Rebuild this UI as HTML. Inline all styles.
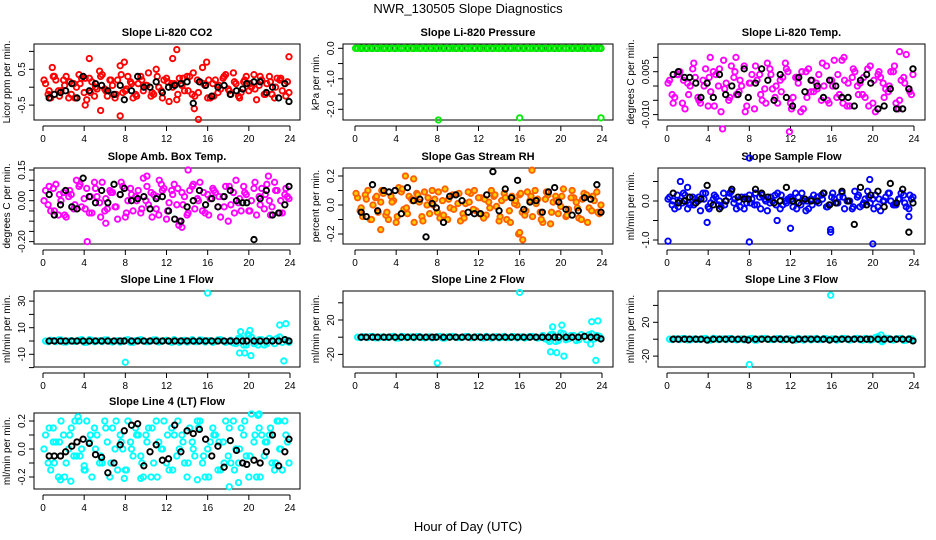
<!DOCTYPE html>
<html><head><meta charset="utf-8">
<style>
html,body{margin:0;padding:0;background:#fff;}
svg{display:block;font-family:"Liberation Sans",sans-serif;}
</style></head>
<body>
<svg id="chart" width="936" height="540" viewBox="0 0 936 540">
<text x="468" y="13" text-anchor="middle" font-size="13">NWR_130505  Slope Diagnostics</text>
<text x="468" y="531" text-anchor="middle" font-size="13">Hour of Day (UTC)</text>
</svg>
<script>
// ---- shared categories ----
const hoursA = [0.25,0.75,1.25,1.75,2.25,2.75,3.25,3.75,4.25,4.75,5.25,5.75,6.25,6.75,7.25,7.75,8.25,8.75,9.25,9.75,10.25,10.75,11.25,11.75,12.25,12.75,13.25,13.75,14.25,14.75,15.25,15.75,16.25,16.75,17.25,17.75,18.25,18.75,19.25,19.75,20.25,20.75,21.25,21.75,22.25,22.75,23.25,23.75];
const hoursB = [0.5,1.0,1.5,2.0,2.5,3.0,3.5,4.0,4.5,5.0,5.5,6.0,6.5,7.0,7.5,8.0,8.5,9.0,9.5,10.0,10.5,11.0,11.5,12.0,12.5,13.0,13.5,14.0,14.5,15.0,15.5,16.0,16.5,17.0,17.5,18.0,18.5,19.0,19.5,20.0,20.5,21.0,21.5,22.0,22.5,23.0,23.5,23.9];
const hoursC = [0.1,0.6,1.1,1.6,2.1,2.6,3.1,3.6,4.1,4.6,5.1,5.6,6.1,6.6,7.1,7.6,8.1,8.6,9.1,9.6,10.1,10.6,11.1,11.6,12.1,12.6,13.1,13.6,14.1,14.6,15.1,15.6,16.1,16.6,17.1,17.6,18.1,18.6,19.1,19.6,20.1,20.6,21.1,21.6,22.1,22.6,23.1,23.6];
const hoursK = [0.6,1.1,1.7,2.2,2.8,3.3,3.9,4.5,5.1,5.7,6.3,6.9,7.5,7.9,8.6,9.2,9.8,10.4,11,11.6,12.2,12.8,13.4,14,14.6,15.2,15.8,16.4,17,17.6,18.2,18.8,19.4,19.8,20.5,21.1,21.7,22.3,22.9,23.5,23.9];
const xTicks = [0,4,8,12,16,20,24];

// ---- panel 1: CO2 ----
const co2A = [0.1,-0.3,0.2,-0.1,0.3,-0.2,0.0,0.25,-0.35,0.15,-0.05,0.35,-0.25,0.05,0.2,-0.15,0.3,-0.3,0.1,-0.1,0.4,-0.2,0.0,0.2,-0.4,0.1,0.25,-0.1,0.3,-0.25,0.15,0.05,-0.3,0.2,-0.05,0.35,-0.2,0.1,-0.15,0.3,0.0,-0.35,0.2,0.1,-0.2,0.25,-0.1,0.15];
const co2B = [-0.2,0.3,-0.1,0.2,-0.3,0.1,0.35,-0.15,0.25,-0.25,0.45,-0.05,0.2,-0.3,0.6,-0.1,0.15,-0.2,0.3,0.05,-0.25,0.5,-0.1,0.25,0.1,-0.35,0.05,0.3,-0.2,0.2,0.55,-0.3,0.1,-0.15,0.25,-0.05,0.4,-0.25,0.15,-0.1,0.35,0.05,-0.2,0.3,-0.3,0.2,0.1,-0.15];
const co2C = [0.2,-0.1,0.3,-0.25,0.05,0.15,-0.3,0.1,0.25,-0.15,0.0,0.3,-0.1,0.2,-0.2,0.35,-0.05,0.1,-0.25,0.2,0.05,-0.15,0.3,-0.3,0.15,0.0,-0.2,0.25,-0.1,0.4,-0.15,0.1,0.2,-0.25,0.05,0.3,-0.1,0.15,-0.3,0.2,0.1,-0.05,0.3,-0.2,0.15,0.0,0.25,-0.25];
const co2OutH = [0.9,4.1,4.5,5.6,7.5,7.9,12.6,13.0,15.1,15.9,23.9,14.7];
const co2OutV = [0.55,-0.5,0.8,-0.65,-0.8,0.7,0.8,1.05,-0.9,0.7,0.85,-0.6];
const co2K = [-0.3,-0.2,-0.15,-0.1,0.1,-0.3,0.3,-0.1,0.1,0.05,-0.1,-0.2,0.05,-0.35,-0.1,0.3,0.0,0.0,0.15,-0.15,0.0,0.05,0.1,0.15,-0.45,0.15,0.05,-0.25,0.0,0.05,-0.2,-0.1,-0.05,0.1,0.15,0.15,-0.15,0.0,-0.3,0.1,-0.4];
const co2Ticks = [-0.5,0,0.5,1.0];
const co2Labels = ["-0.5","","0.5",""];

// ---- panel 2: pressure ----
const presA = [0,0,0,0,0,0,0,0,0,0,0,0,0,0,0,0,0,0,0,0,0,0,0,0,0,0,0,0,0,0,0,0,0,0,0,0,0,0,0,0,0,0,0,0,0,0,0,0];
const presB = [0,0,0,0,0,0,0,0,0,0,0,0,0,0,0,0,0,0,0,0,0,0,0,0,0,0,0,0,0,0,0,0,0,0,0,0,0,0,0,0,0,0,0,0,0,0,0,0];
const presC = [];
const presOutH = [0.05,8.1,16.0,23.9];
const presOutV = [0,-2.35,-2.28,-2.28];
const presK = [0,0,0,0,0,0,0,0,0,0,0,0,0,0,0,0,0,0,0,0,0,0,0,0,0,0,0,0,0,0,0,0,0,0,0,0,0,0,0,0,0];
const presTicks = [-2.0,-1.5,-1.0,-0.5,0.0];
const presLabels = ["-2.0","","-1.0","","0.0"];

// ---- panel 3: Li-820 temp ----
const tempA = [0.002,-0.004,0.005,-0.008,0.0,0.003,-0.006,0.006,-0.002,0.004,-0.009,0.001,0.007,-0.003,0.0,-0.007,0.004,0.002,-0.005,0.008,-0.001,-0.006,0.003,0.005,-0.004,0.001,-0.008,0.006,-0.002,0.004,0.0,-0.006,0.009,-0.003,0.002,-0.007,0.005,0.001,-0.004,0.007,-0.009,0.003,-0.001,0.005,-0.006,0.002,0.011,-0.003];
const tempB = [-0.003,0.004,-0.006,0.001,0.006,-0.004,0.002,-0.007,0.005,0.0,0.009,-0.005,0.003,-0.002,0.007,0.001,-0.008,0.004,-0.001,0.006,-0.004,0.002,0.008,-0.006,0.003,-0.009,0.005,-0.002,0.001,-0.005,0.007,0.002,-0.004,0.009,-0.007,0.003,0.0,-0.003,0.006,-0.006,0.004,0.001,-0.002,0.005,-0.008,0.003,-0.001,0.004];
const tempC = [0.001,-0.006,0.004,0.002,-0.003,0.008,-0.005,0.0,0.003,-0.007,0.006,-0.001,-0.004,0.005,0.002,-0.009,0.001,0.007,-0.003,-0.006,0.004,0.0,-0.002,0.006,-0.008,0.003,0.005,-0.004,0.002,-0.001,0.008,-0.005,0.0,0.004,-0.006,0.001,0.006,-0.003,0.003,-0.007,0.002,0.005,-0.004,0.0,0.007,-0.005,0.001,-0.002];
const tempOutH = [5.4,11.9,4.2,6.7,22.6,17.2];
const tempOutV = [-0.015,-0.016,0.010,0.010,0.012,0.010];
const tempK = [0.004,0.005,0.003,0.003,0.001,-0.004,0.001,-0.004,0.004,-0.003,0.0,-0.003,0.006,-0.004,0.001,0.006,0.002,-0.005,0.004,-0.004,-0.007,0.003,-0.002,0.002,0.0,-0.004,0.002,0.0,-0.004,-0.004,-0.007,0.002,0.004,0.001,-0.008,-0.007,-0.001,-0.008,-0.008,-0.001,0.006];
const tempTicks = [-0.015,-0.010,-0.005,0.0,0.005,0.010];
const tempLabels = ["","-0.010","","","0.005",""];

// ---- panel 4: amb box temp ----
const ambA = [0.05,-0.05,0.08,0.0,-0.08,0.03,0.1,-0.03,0.06,-0.06,0.02,0.09,-0.04,0.04,-0.09,0.07,0.0,-0.05,0.05,0.11,-0.02,0.03,-0.07,0.06,-0.01,0.08,-0.1,0.02,0.05,-0.04,0.09,-0.06,0.01,0.04,-0.08,0.07,-0.02,0.1,-0.05,0.03,0.0,-0.07,0.06,0.08,-0.03,0.05,-0.06,0.02];
const ambB = [-0.02,0.06,-0.07,0.04,0.02,-0.04,0.07,0.01,-0.06,0.09,-0.01,-0.05,0.05,-0.03,0.03,-0.08,0.06,0.02,-0.06,0.0,0.04,-0.04,0.08,-0.09,0.05,-0.02,0.04,-0.07,0.07,0.01,-0.05,0.03,0.06,-0.03,0.02,-0.1,0.04,-0.01,0.07,-0.05,0.06,0.02,-0.04,0.0,0.09,-0.06,0.03,0.01];
const ambC = [0.0,0.07,-0.05,0.03,-0.07,0.05,-0.02,0.08,-0.04,0.02,0.06,-0.08,0.01,0.04,-0.03,0.09,-0.06,0.03,0.0,-0.04,0.07,-0.08,0.02,0.05,-0.05,0.03,0.06,-0.02,-0.06,0.08,0.0,0.04,-0.07,0.05,0.02,-0.03,0.07,-0.06,0.01,0.04,-0.05,0.09,-0.02,0.03,-0.07,0.05,0.0,0.06];
const ambOutH = [4.3,14.1,13.5,21.9,10.1,11.3,6.1,13.2];
const ambOutV = [-0.2,0.15,-0.13,0.12,0.12,0.1,-0.11,-0.12];
const ambK = [0.03,-0.07,-0.02,0.05,-0.03,-0.04,0.11,0.02,-0.01,0.05,-0.01,0.08,0.03,0.06,0.0,0.01,0.02,-0.04,0.01,0.02,-0.05,-0.09,-0.1,-0.03,0.0,0.05,-0.02,0.01,-0.03,0.02,0.05,0.0,-0.01,-0.01,-0.19,0.01,0.05,-0.07,-0.06,-0.02,0.07];
const ambTicks = [-0.20,-0.15,-0.10,-0.05,0.0,0.05,0.10,0.15];
const ambLabels = ["-0.20","","","","0.00","","","0.15"];

// ---- panel 5: gas stream RH ----
const rhA = [0.05,-0.08,0.1,0.0,-0.05,0.08,-0.1,0.03,0.12,-0.03,0.06,-0.12,0.02,0.09,-0.06,0.04,-0.09,0.11,-0.02,0.07,-0.11,0.01,0.08,-0.04,0.05,-0.07,0.1,-0.01,0.03,-0.1,0.06,0.0,-0.05,0.09,-0.08,0.04,-0.12,0.07,0.02,-0.06,0.11,-0.03,0.05,-0.09,0.08,-0.02,0.03,-0.06];
const rhB = [-0.04,0.07,-0.1,0.05,0.02,-0.07,0.06,-0.12,0.09,-0.02,0.04,0.08,-0.08,0.0,0.1,-0.05,0.03,-0.1,0.07,0.01,-0.06,0.09,-0.03,0.05,-0.09,0.02,0.06,-0.11,0.08,-0.04,0.01,0.07,-0.07,0.03,0.1,-0.05,0.04,-0.13,0.06,-0.01,-0.08,0.05,0.02,-0.1,0.07,-0.04,0.09,0.0];
const rhC = [0.08,-0.02,0.04,-0.1,0.06,0.1,-0.05,0.02,-0.08,0.11,-0.06,0.03,0.07,-0.11,0.05,0.0,0.09,-0.07,0.04,-0.03,0.08,-0.09,0.02,0.1,-0.06,0.04,-0.02,0.07,-0.08,0.05,-0.12,0.03,0.08,-0.04,0.06,0.01,-0.1,0.09,-0.05,0.03,0.06,-0.07,0.1,-0.02,0.04,-0.12,0.06,-0.05];
const rhOutH = [4.9,5.7,16.3,17.2,2.5,15.9,16.0];
const rhOutV = [0.2,0.18,-0.24,0.24,-0.17,-0.2,-0.19];
const rhK = [-0.05,-0.08,0.14,-0.04,0.1,0.09,0.1,-0.06,0.12,0.03,0.04,-0.22,0.01,-0.02,-0.12,0.06,0.07,0.03,-0.05,-0.06,-0.06,0.07,0.23,-0.04,0.11,0.05,0.17,-0.03,0.02,0.03,-0.05,0.09,0.12,0.02,-0.03,-0.07,-0.04,0.05,0.04,0.14,-0.05];
const rhTicks = [-0.2,-0.1,0.0,0.1,0.2];
const rhLabels = ["-0.2","","0.0","","0.2"];

// ---- panel 6: sample flow ----
const sfA = [0.1,-0.2,0.0,0.15,-0.1,0.05,-0.25,0.2,-0.05,0.1,-0.15,0.0,0.25,-0.2,0.1,-0.05,0.05,-0.1,0.15,-0.25,0.0,0.2,-0.1,0.05,-0.15,0.1,0.0,-0.2,0.15,-0.05,0.2,-0.1,0.05,0.1,-0.2,0.0,0.25,-0.15,0.05,-0.05,0.15,-0.25,0.1,0.0,-0.1,0.2,-0.15,0.05];
const sfB = [-0.1,0.15,-0.05,-0.2,0.1,0.0,0.2,-0.15,0.05,-0.1,0.2,0.1,-0.05,0.0,-0.2,0.15,-0.1,0.1,0.05,-0.05,0.15,-0.2,0.0,0.1,0.2,-0.1,-0.25,0.05,0.0,0.15,-0.15,0.1,-0.05,0.2,0.0,-0.2,0.1,-0.1,0.25,0.05,-0.15,0.0,0.2,-0.1,0.05,0.15,-0.2,0.1];
const sfC = [0.05,0.0,-0.15,0.2,-0.05,-0.1,0.1,0.05,-0.2,0.15,0.0,-0.1,0.2,0.05,-0.15,0.1,-0.05,0.2,-0.2,0.0,0.1,-0.1,0.15,-0.05,0.05,-0.2,0.2,0.0,-0.1,0.1,0.05,-0.15,0.2,-0.05,0.1,0.0,-0.15,0.15,-0.05,0.1,-0.2,0.05,0.0,0.2,-0.1,0.05,-0.05,0.15];
const sfOutH = [0.1,1.3,8.0,8.0,3.9,10.7,12.0,15.9,15.9,20.0,19.7,23.5,2.0];
const sfOutV = [-1.03,0.5,1.1,-1.05,-0.55,-0.5,-0.7,-0.8,-0.73,-1.1,0.55,-0.4,0.35];
const sfK = [0.2,-0.05,0.0,0.1,-0.05,0.05,0.4,-0.1,-0.2,0.0,0.3,0.1,0.05,0.05,0.3,0.2,0.1,-0.05,0.0,0.35,0.0,-0.05,0.05,0.0,0.0,0.2,-0.1,-0.05,0.25,0.0,-0.6,0.35,-0.1,0.15,0.25,-0.15,0.45,-0.05,0.3,-0.8,-0.05];
const sfTicks = [-1.0,-0.5,0.0,0.5];
const sfLabels = ["-1.0","","0.0",""];

// ---- panel 7: line 1 flow ----
const l1A = [0,0.5,-0.5,0.8,-0.8,0.3,-0.3,1,-1,0.5,0,-0.5,0.8,-0.8,0.3,-0.3,1,-1,0.5,0,-0.5,0.8,-0.8,0.3,-0.3,1,-1,0.5,0,-0.5,0.8,-0.8,0.3,-0.3,1,-1,0.5,-2,2,-3,3,-1,1,-2,0.5,2,-1,0.5];
const l1B = [-0.5,0.3,0.8,-0.8,0,-0.3,0.5,-1,1,-0.5,0.3,0.8,-0.3,0,-0.8,0.5,-1,0.3,1,-0.5,0,0.8,-0.3,0.5,-1,0,0.3,-0.8,1,-0.5,0.5,0.3,-1,0.8,0,-0.3,-1.5,2,-3,4,-2,1,-3,2,-2,3,1,-1];
const l1C = [];
const l1OutH = [16,8,19.1,19.6,20.2,19.9,20.1,19.2,23.4,23.0,23.6,20.9];
const l1OutV = [36,-16,-9,-9,-11,5,8,7,-15,12,13,-3];
const l1K = [0,0,0,0,0,0,0,0,0,0,0,0,0,0,0,0,0,0,0,0,0,0,0,0,0,0,0,0,0,0,0,0,0,0,0,0,0,0,0,1,0];
const l1Ticks = [-20,-10,0,10,20,30];
const l1Labels = ["","-10","","10","","30"];

// ---- panel 8: line 2 flow ----
const l2A = [0,0.5,-0.5,0.8,-0.8,0.3,-0.3,1,-1,0.5,0,-0.5,0.8,-0.8,0.3,-0.3,1,-1,0.5,0,-0.5,0.8,-0.8,0.3,-0.3,1,-1,0.5,0,-0.5,0.8,-0.8,0.3,-0.3,1,-1,2,-3,3,-4,4,-2,2,-3,1,3,-2,1];
const l2B = [-0.5,0.3,0.8,-0.8,0,-0.3,0.5,-1,1,-0.5,0.3,0.8,-0.3,0,-0.8,0.5,-1,0.3,1,-0.5,0,0.8,-0.3,0.5,-1,0,0.3,-0.8,1,-0.5,0.5,0.3,-1,0.8,0,-0.3,-2,3,-5,5,-3,2,-4,3,-3,4,2,-1];
const l2C = [];
const l2OutH = [16,8,19.0,19.6,20.3,19.2,20.1,23.0,23.6,23.4,22.9,18.9];
const l2OutV = [52,-30,-17,-18,-22,12,14,18,19,-27,-8,-5];
const l2K = [0,0,0,0,0,0,0,0,0,0,0,0,0,0,0,0,0,0,0,0,0,0,0,0,0,0,0,0,0,0,0,0,0,0,0,0,0,1,0,0,-2];
const l2Ticks = [-20,0,20,40];
const l2Labels = ["-20","","20",""];

// ---- panel 9: line 3 flow ----
const l3A = [0,0.5,-0.5,0.8,-0.8,0.3,-0.3,1,-1,0.5,0,-0.5,0.8,-0.8,0.3,-0.3,1,-1,0.5,0,-0.5,0.8,-0.8,0.3,-0.3,1,-1,0.5,0,-0.5,0.8,-0.8,0.3,-0.3,1,-1,0.5,-0.5,1,-1,2,-1.5,1,-0.5,0.5,1,-1,0.5];
const l3B = [-0.5,0.3,0.8,-0.8,0,-0.3,0.5,-1,1,-0.5,0.3,0.8,-0.3,0,-0.8,0.5,-1,0.3,1,-0.5,0,0.8,-0.3,0.5,-1,0,0.3,-0.8,1,-0.5,0.5,0.3,-1,0.8,0,-0.3,1,-1,0.5,-0.5,3,-2,1,-1,0.5,-1.5,0.5,-1];
const l3C = [];
const l3OutH = [15.9,8.0,20.8,20.9];
const l3OutV = [52,-30,5,-3];
const l3K = [0,0,0,0,0,0,-1,0,0,0,0,0,0,-1,0,0,0,0,0,0,-1,0,0,0,0,0,-1,0,0,0,0,0,0,0,0,0,0,0,0,0,-2];
const l3Ticks = [-20,0,20,40];
const l3Labels = ["-20","","20",""];

// ---- panel 10: line 4 flow ----
const l4A = [0.1,-0.15,0.05,0.2,-0.1,0.15,-0.05,0.0,0.2,-0.2,0.1,-0.1,0.05,0.15,-0.15,0.0,0.2,-0.05,0.1,-0.2,0.15,-0.1,0.05,0.2,-0.15,0.1,0.0,-0.1,0.15,-0.05,0.2,-0.2,0.05,0.1,-0.15,0.2,-0.1,0.0,0.15,-0.05,0.25,-0.2,0.1,0.05,-0.1,0.2,-0.15,0.05];
const l4B = [-0.1,0.05,-0.2,0.1,0.0,-0.05,0.2,-0.15,0.05,0.15,-0.1,0.2,-0.2,0.0,0.1,-0.15,0.05,0.15,-0.05,0.1,-0.2,0.2,0.0,-0.1,0.15,-0.05,0.1,-0.2,0.05,0.2,-0.1,0.0,0.15,-0.15,0.05,-0.05,0.2,-0.1,0.1,-0.2,0.05,0.15,-0.05,0.1,-0.15,0.0,0.2,-0.1];
const l4C = [0.0,0.15,-0.1,0.05,-0.2,0.1,0.2,-0.05,-0.15,0.1,0.0,-0.05,0.15,-0.1,0.2,0.05,-0.15,0.0,0.1,-0.1,0.05,0.15,-0.2,0.0,0.1,-0.15,0.2,0.05,-0.1,0.0,0.15,-0.05,-0.2,0.1,0.05,-0.1,0.15,-0.15,0.0,0.2,-0.05,0.1,-0.2,0.05,0.15,-0.1,0.0,0.1];
const l4OutH = [1.7,2.7,7.9,9.5,15.0,18.1,19.0,21.0,1.0,3.4,22.9,20.9,4.0];
const l4OutV = [-0.22,-0.23,-0.21,-0.21,-0.22,-0.27,-0.24,0.25,0.15,0.23,0.2,0.24,-0.12];
const l4K = [-0.05,-0.05,-0.05,-0.02,0.02,0.05,0.07,0.04,-0.04,-0.06,-0.17,-0.1,0.03,0.13,0.17,0.18,-0.12,-0.02,0.03,-0.08,-0.07,0.17,-0.02,0.13,0.11,0.14,0.07,-0.05,0.02,-0.13,0.06,-0.01,-0.1,-0.11,-0.08,-0.1,-0.02,0.1,-0.12,-0.02,0.07];
const l4Ticks = [-0.2,-0.1,0.0,0.1,0.2];
const l4Labels = ["-0.2","","0.0","","0.2"];

const NS = "http://www.w3.org/2000/svg";
const svg = document.getElementById("chart");
function mk(tag, attrs, parent){
  const e = document.createElementNS(NS, tag);
  for (const k in attrs) e.setAttribute(k, attrs[k]);
  (parent||svg).appendChild(e);
  return e;
}
const COLS = [{bx0:34,bx1:300,h0:43,h24:290},{bx0:343,bx1:613,h0:355,h24:602},{bx0:658,bx1:925,h0:667,h24:914}];
const ROWS = [{by0:44,by1:120},{by0:168,by1:244},{by0:291,by1:367},{by0:413,by1:489}];

const panels = [
 {name:"co2",title:"Slope Li-820 CO2",ylab:"Licor ppm per min.",col:0,row:0,color:"#ff0000",fill:"none",A:co2A,B:co2B,C:co2C,oh:co2OutH,ov:co2OutV,K:co2K,ticks:co2Ticks,labels:co2Labels,ref:[0,87.2,0.5,69.3]},
 {name:"pressure",title:"Slope Li-820 Pressure",ylab:"kPa per min.",col:1,row:0,color:"#00ee00",fill:"none",A:presA,B:presB,C:presC,oh:presOutH,ov:presOutV,K:presK,ticks:presTicks,labels:presLabels,ref:[0,48.3,-2,109.3],kFirst:true},
 {name:"li820-temp",title:"Slope Li-820 Temp.",ylab:"degrees C per min.",col:2,row:0,color:"#ff00ff",fill:"none",A:tempA,B:tempB,C:tempC,oh:tempOutH,ov:tempOutV,K:tempK,ticks:tempTicks,labels:tempLabels,ref:[0,86,0.005,71.7]},
 {name:"amb-box-temp",title:"Slope Amb. Box Temp.",ylab:"degrees C per min.",col:0,row:1,color:"#ff00ff",fill:"none",A:ambA,B:ambB,C:ambC,oh:ambOutH,ov:ambOutV,K:ambK,ticks:ambTicks,labels:ambLabels,ref:[0,200.7,0.15,170]},
 {name:"gas-stream-rh",title:"Slope Gas Stream RH",ylab:"percent per min.",col:1,row:1,color:"#ff6000",fill:"#ffd000",A:rhA,B:rhB,C:rhC,oh:rhOutH,ov:rhOutV,K:rhK,ticks:rhTicks,labels:rhLabels,ref:[0,205,0.2,176]},
 {name:"sample-flow",title:"Slope Sample Flow",ylab:"ml/min per min.",col:2,row:1,color:"#0000ff",fill:"none",A:sfA,B:sfB,C:sfC,oh:sfOutH,ov:sfOutV,K:sfK,ticks:sfTicks,labels:sfLabels,ref:[0,201,-1,240]},
 {name:"line1-flow",title:"Slope Line 1 Flow",ylab:"ml/min per min.",col:0,row:2,color:"#00ffff",fill:"none",A:l1A,B:l1B,C:l1C,oh:l1OutH,ov:l1OutV,K:l1K,ticks:l1Ticks,labels:l1Labels,ref:[0,341,10,327.7]},
 {name:"line2-flow",title:"Slope Line 2 Flow",ylab:"ml/min per min.",col:1,row:2,color:"#00ffff",fill:"none",A:l2A,B:l2B,C:l2C,oh:l2OutH,ov:l2OutV,K:l2K,ticks:l2Ticks,labels:l2Labels,ref:[0,337.2,20,320]},
 {name:"line3-flow",title:"Slope Line 3 Flow",ylab:"ml/min per min.",col:2,row:2,color:"#00ffff",fill:"none",A:l3A,B:l3B,C:l3C,oh:l3OutH,ov:l3OutV,K:l3K,ticks:l3Ticks,labels:l3Labels,ref:[0,339.2,20,322.3]},
 {name:"line4-flow",title:"Slope Line 4 (LT) Flow",ylab:"ml/min per min.",col:0,row:3,color:"#00ffff",fill:"none",A:l4A,B:l4B,C:l4C,oh:l4OutH,ov:l4OutV,K:l4K,ticks:l4Ticks,labels:l4Labels,ref:[0,449,0.2,421]}
];

panels.forEach(p=>{
  const c = COLS[p.col], r = ROWS[p.row];
  const xs = h => c.h0 + (c.h24 - c.h0) * h / 24;
  const ys = v => p.ref[1] + (v - p.ref[0]) * (p.ref[3] - p.ref[1]) / (p.ref[2] - p.ref[0]);
  const g = mk("g", {});
  
  

  const t = mk("text", {x:(c.bx0+c.bx1)/2, y:r.by0-8, "text-anchor":"middle", "font-size":"11", "font-weight":"bold"}, g);
  t.textContent = p.title;
  
  

  const box = mk("rect", {x:c.bx0, y:r.by0, width:c.bx1-c.bx0, height:r.by1-r.by0, fill:"none", stroke:"#000", "stroke-width":"1"}, g);
  
  

  const xa = mk("g", {}, g);
  
  
  const ay = r.by1 + 6;
  mk("line", {x1:xs(0), x2:xs(24), y1:ay, y2:ay, stroke:"#000"}, xa);
  xTicks.forEach(h=>{
    mk("line", {x1:xs(h), x2:xs(h), y1:ay, y2:ay+5, stroke:"#000"}, xa);
    const tl = mk("text", {x:xs(h), y:ay+16, "text-anchor":"middle", "font-size":"10"}, xa);
    tl.textContent = String(h);
    
    
  });

  const ya = mk("g", {}, g);
  
  
  const ax = c.bx0;
  p.ticks.forEach((v,i)=>{
    const y = ys(v);
    if (y < r.by0 - 1 || y > r.by1 + 1) return;
    mk("line", {x1:ax-5, x2:ax, y1:y, y2:y, stroke:"#000"}, ya);
    if (p.labels[i]) {
      const tl = mk("text", {x:ax-9, y:y, "text-anchor":"middle", "font-size":"10", transform:`rotate(-90 ${ax-9} ${y})`}, ya);
      tl.textContent = p.labels[i];
      
      
    }
  });
  const yt = mk("text", {x:c.bx0-24, y:(r.by0+r.by1)/2, "text-anchor":"middle", "font-size":"10", transform:`rotate(-90 ${c.bx0-24} ${(r.by0+r.by1)/2})`}, g);
  yt.textContent = p.ylab;
  
  

  const pts = mk("g", {}, g);
  
  
  function dot(h, v, color, fill, nm){
    const e = mk("circle", {cx:xs(h), cy:ys(v), r:2.7, fill:fill, stroke:color, "stroke-width":"1.9"}, pts);
    
    
  }
  function drawK(){ p.K.forEach((v,i)=>{ if (i < hoursK.length) dot(hoursK[i], v, "#000", "none", "black-point"); }); }
  if (p.kFirst) drawK();
  p.A.forEach((v,i)=>{ if (i < hoursA.length) dot(hoursA[i], v, p.color, p.fill, "colored-point"); });
  p.B.forEach((v,i)=>{ if (i < hoursB.length) dot(hoursB[i], v, p.color, p.fill, "colored-point"); });
  p.C.forEach((v,i)=>{ if (i < hoursC.length) dot(hoursC[i], v, p.color, p.fill, "colored-point"); });
  p.ov.forEach((v,i)=>{ if (i < p.oh.length) dot(p.oh[i], v, p.color, p.fill, "outlier-point"); });
  if (!p.kFirst) drawK();
});
</script>
</body></html>
